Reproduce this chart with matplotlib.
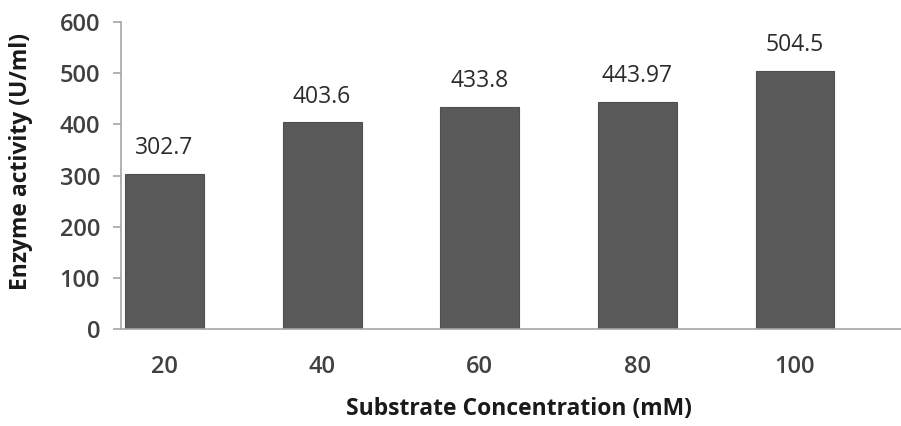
import matplotlib
matplotlib.use('Agg')
import matplotlib.pyplot as plt
import numpy as np

# Enzyme activity at each substrate concentration
concentrations = ['20', '40', '60', '80', '100']
activity = [302.7, 403.6, 433.8, 443.97, 504.5]
activity_labels = ['302.7', '403.6', '433.8', '443.97', '504.5']
yticks = [0, 100, 200, 300, 400, 500, 600]

plt.rcParams['font.family'] = ['Open Sans', 'DejaVu Sans']

fig = plt.figure(figsize=(9.01, 4.26), dpi=100)
ax = fig.add_axes([121/901, 97/426, 1 - 121/901, 307/426])

pos = np.arange(len(concentrations))
ax.bar(pos, activity, width=0.5, color='#595959', edgecolor='#4f4f4f', linewidth=0.8)

for p, v, lab in zip(pos, activity, activity_labels):
    ax.annotate(lab, (p, v), xytext=(0, 18.5), textcoords='offset points',
                ha='center', va='center', fontsize=16.5, color='#2b2b2b')

ax.set_xlim(-0.276, 4.673)
ax.set_ylim(0, 600)
ax.set_yticks(yticks)
ax.set_xticks(pos)
ax.set_xticklabels(concentrations)

for s in ['top', 'right']:
    ax.spines[s].set_visible(False)
for s in ['left', 'bottom']:
    ax.spines[s].set_color('#a6a6a6')
    ax.spines[s].set_linewidth(1.2)

ax.tick_params(axis='y', length=6, width=1.2, color='#a6a6a6', pad=9,
               labelsize=17, labelcolor='#404040')
ax.tick_params(axis='x', length=0, pad=19, labelsize=17, labelcolor='#404040')
for t in ax.get_xticklabels() + ax.get_yticklabels():
    t.set_fontweight('semibold')

fig.text(519/901, 1 - 409/426, 'Substrate Concentration (mM)', ha='center', va='center',
         fontsize=16.5, fontweight='bold', color='#1a1a1a')
fig.text(21/901, 1 - 161/426, 'Enzyme activity (U/ml)', ha='center', va='center',
         rotation=90, fontsize=16.5, fontweight='bold', color='#1a1a1a')

fig.savefig('out.png', dpi=100)
